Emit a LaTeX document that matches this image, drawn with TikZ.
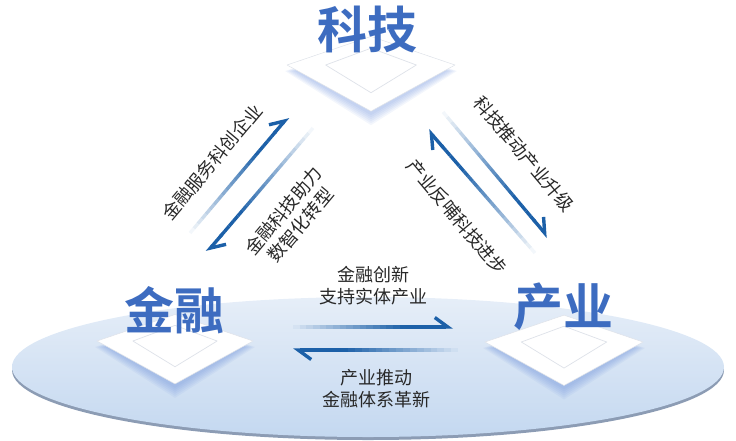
\documentclass[tikz,border=0pt]{standalone}
\usepackage{fontspec}
\newfontfamily\cjk{Noto Sans CJK SC}
\newfontfamily\cjkbf{Noto Sans CJK SC Bold}
\usepackage{tikz}
\usetikzlibrary{arrows.meta, calc, positioning}
\usepackage{xcolor}
\definecolor{titleblue}{RGB}{61, 108, 192}
\definecolor{arrowblue}{RGB}{28, 96, 168}
\definecolor{ovaltop}{RGB}{230, 238, 248}
\definecolor{ovalbottom}{RGB}{196, 216, 240}
\definecolor{ovalrim}{RGB}{140, 156, 180}
\definecolor{glowblue}{RGB}{90, 130, 215}
\definecolor{platedge}{RGB}{222, 226, 233}
\definecolor{textgray}{RGB}{40, 40, 40}
\tikzset{
    title text/.style={
        font=\cjkbf\fontsize{50}{56}\selectfont,
        text=titleblue,
        inner sep=0pt
    },
    label text/.style={
        font=\cjk\fontsize{18}{22}\selectfont,
        text=textgray,
        align=center,
        inner sep=0pt
    },
    plate/.style={
        fill=white,
        draw=platedge,
        line width=0.5pt,
        line join=round
    },
    plate inner/.style={
        draw=platedge,
        line width=0.7pt,
        line join=round
    },
    glow/.style={
        fill=glowblue,
        opacity=0.07
    },
    flow seg/.style={
        draw=arrowblue,
        line width=3.4pt,
        line cap=butt
    },
    flow tip/.style={
        draw=arrowblue,
        line width=3.4pt,
        -{Straight Barb[left, length=13pt, width=19pt]}
    }
}

\begin{document}
\begin{tikzpicture}[x=1pt, y=-1pt]

\useasboundingbox (0, 0) rectangle (736, 440);

% === BASE OVAL ===
\fill[ovalrim] (368, 370) ellipse [x radius=356, y radius=70];
\shade[top color=ovaltop, bottom color=ovalbottom] (368, 367) ellipse [x radius=356, y radius=70];

% === PLATES ===
\foreach \n/\x/\y/\w in {tech/371/65/84, fin/175/341/78, ind/564/342/79} {
    \coordinate (\n) at (\x, \y);
    \begin{scope}[shift={(\x, \y)}]
        % soft blue glow under the plate
        \foreach \k in {0,...,5} {
            \fill[glow] (-\w+8-2*\k, 6) -- (0, 6-0.34*\w) -- (\w-8+2*\k, 6)
                -- (0, 0.55*\w+4+2*\k) -- cycle;
        }
        % plate and inner outline
        \draw[plate] (-\w, 0) -- (0, -0.34*\w) -- (\w, 0) -- (0, 0.55*\w) -- cycle;
        \draw[plate inner] (-0.54*\w, 0) -- (0, -0.2*\w) -- (0.54*\w, 0) -- (0, 0.33*\w) -- cycle;
    \end{scope}
}

% === ARROW END POINTS ===
\coordinate (fin_up_s) at (190, 233);   \coordinate (fin_up_e) at (288, 117);
\coordinate (tech_dn_s) at (313, 128);  \coordinate (tech_dn_e) at (207, 252);
\coordinate (tech_rt_s) at (443, 112);  \coordinate (tech_rt_e) at (548, 237);
\coordinate (ind_up_s) at (535, 253);   \coordinate (ind_up_e) at (428, 130);
\coordinate (fin_rt_s) at (293, 327);   \coordinate (fin_rt_e) at (453, 327);
\coordinate (ind_lt_s) at (458, 350);   \coordinate (ind_lt_e) at (293, 350);

% === ARROWS (fading tails) ===
\foreach \s/\e in {fin_up_s/fin_up_e, tech_dn_s/tech_dn_e, tech_rt_s/tech_rt_e,
                   ind_up_s/ind_up_e, fin_rt_s/fin_rt_e, ind_lt_s/ind_lt_e} {
    \foreach \i in {0,...,20} {
        \pgfmathsetmacro\op{min(1, 0.05+\i/17)}
        \draw[flow seg, draw opacity=\op] ($(\s)!\i/24!(\e)$) -- ($(\s)!\i/24+1/24!(\e)$);
    }
    \draw[flow tip] ($(\s)!0.86!(\e)$) -- (\e);
}

% === LABELS ===
\node[label text, rotate=50] (fin_serve) at (212, 162) {金融服务科创企业};
\node[label text, rotate=50] (fin_digital) at (292, 218) {金融科技助力\\数智化转型};
\node[label text, rotate=-50] (tech_push) at (524, 154) {科技推动产业升级};
\node[label text, rotate=-50] (ind_feed) at (457, 217) {产业反哺科技进步};
\node[label text] (fin_support) at (373, 286) {金融创新\\支持实体产业};
\node[label text] (ind_reform) at (376, 389) {产业推动\\金融体系革新};

% === TITLES ===
\node[title text] (tech_title) at (367, 29) {科技};
\node[title text] (fin_title) at (174, 310) {金融};
\node[title text] (ind_title) at (563, 307) {产业};

\end{tikzpicture}
\end{document}
